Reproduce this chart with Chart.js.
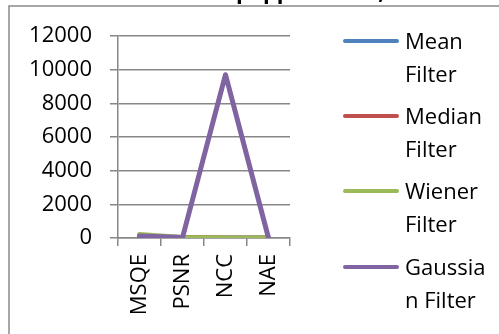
<!DOCTYPE html>
<html>
<head>
<meta charset="utf-8">
<script src="https://cdn.jsdelivr.net/npm/chart.js@4/dist/chart.umd.min.js"></script>
<style>
  html, body { margin: 0; padding: 0; background: #fff; overflow: hidden; }
  #wrap { position: relative; width: 499px; height: 334px; }
  #c { position: absolute; left: 0; top: 0; }
  #legend { position: absolute; left: 0; top: 0; width: 499px; height: 334px; pointer-events: none;
            font-family: "Open Sans", sans-serif; font-size: 22px; color: #000; }
  .item { position: absolute; left: 343px; }
  .swatch { position: absolute; left: 0; width: 56px; height: 4px; border-radius: 2px; }
  .label { position: absolute; left: 62px; width: 84px; line-height: 33px; overflow-wrap: anywhere; white-space: normal; }
</style>
</head>
<body>
<div id="wrap">
  <canvas id="c" width="499" height="334"></canvas>
  <div id="legend"></div>
</div>
<script>
// ---- data ----
const categories = ['MSQE', 'PSNR', 'NCC', 'NAE'];
const seriesNames = ['Mean Filter', 'Median Filter', 'Wiener Filter', 'Gaussian Filter'];
const meanFilter = [110, 28, 1, 0.05];
const medianFilter = [15, 36, 1, 0.01];
const wienerFilter = [210, 25, 1, 0.08];
const gaussianFilter = [120, 27, 9700, 0.06];
const yMin = 0, yMax = 12000, yStep = 2000;
const titleLeft = 'Salt and ';
const titleRight = 'pepper noise,';

const colors = ['#4F81BD', '#C0504D', '#9BBB59', '#8064A2'];
const values = [meanFilter, medianFilter, wienerFilter, gaussianFilter];
const FONT = '"Open Sans", sans-serif';
const GRID = '#878787';

const frame = {
  id: 'frame',
  beforeDraw(chart) {
    const ctx = chart.ctx;
    ctx.save();
    ctx.strokeStyle = '#8a8a8a';
    ctx.lineWidth = 1.5;
    ctx.strokeRect(9, 6, 700, 700);
    ctx.fillStyle = '#000';
    ctx.font = 'bold 22px ' + FONT;
    ctx.textBaseline = 'alphabetic';
    ctx.textAlign = 'right';
    ctx.fillText(titleLeft, 236, -1.5);
    ctx.textAlign = 'left';
    ctx.fillText(titleRight, 236, -1.5);
    ctx.restore();
  }
};

const datasets = seriesNames.map((n, i) => ({
  label: n,
  data: values[i],
  borderColor: colors[i],
  backgroundColor: colors[i],
  borderWidth: 5,
  pointRadius: 0,
  pointHoverRadius: 0,
  tension: 0,
  fill: false,
  borderCapStyle: 'round',
  borderJoinStyle: 'round',
  order: seriesNames.length - 1 - i
}));

new Chart(document.getElementById('c'), {
  type: 'line',
  data: { labels: categories, datasets },
  options: {
    responsive: false,
    devicePixelRatio: 1,
    animation: false,
    layout: { padding: { top: 36, right: 209, left: 0, bottom: 0 } },
    plugins: { legend: { display: false }, tooltip: { enabled: false }, title: { display: false } },
    scales: {
      x: {
        type: 'category',
        offset: true,
        grid: { offset: true, drawOnChartArea: false, tickLength: 8, color: GRID, lineWidth: 1.5 },
        border: { display: true, color: GRID, width: 1.5 },
        ticks: { minRotation: 90, maxRotation: 90, autoSkip: false, color: '#000', padding: 8,
                 font: { family: FONT, size: 22 } },
        afterFit(s) { s.height = 96; }
      },
      y: {
        min: yMin, max: yMax,
        grid: { tickLength: 8, color: GRID, lineWidth: 1.5 },
        border: { display: true, color: GRID, width: 1.5 },
        ticks: { stepSize: yStep, color: '#000', padding: 18, font: { family: FONT, size: 22 },
                 callback: v => String(v) },
        afterFit(s) { s.width = 118; }
      }
    }
  },
  plugins: [frame]
});

// HTML legend
const legend = document.getElementById('legend');
const tops = [24, 99, 174, 250];
seriesNames.forEach((n, i) => {
  const it = document.createElement('div');
  it.className = 'item';
  it.style.top = tops[i] + 'px';
  const sw = document.createElement('div');
  sw.className = 'swatch';
  sw.style.top = '15px';
  sw.style.background = colors[i];
  const lb = document.createElement('div');
  lb.className = 'label';
  lb.textContent = n;
  it.appendChild(sw);
  it.appendChild(lb);
  legend.appendChild(it);
});
</script>
</body>
</html>
